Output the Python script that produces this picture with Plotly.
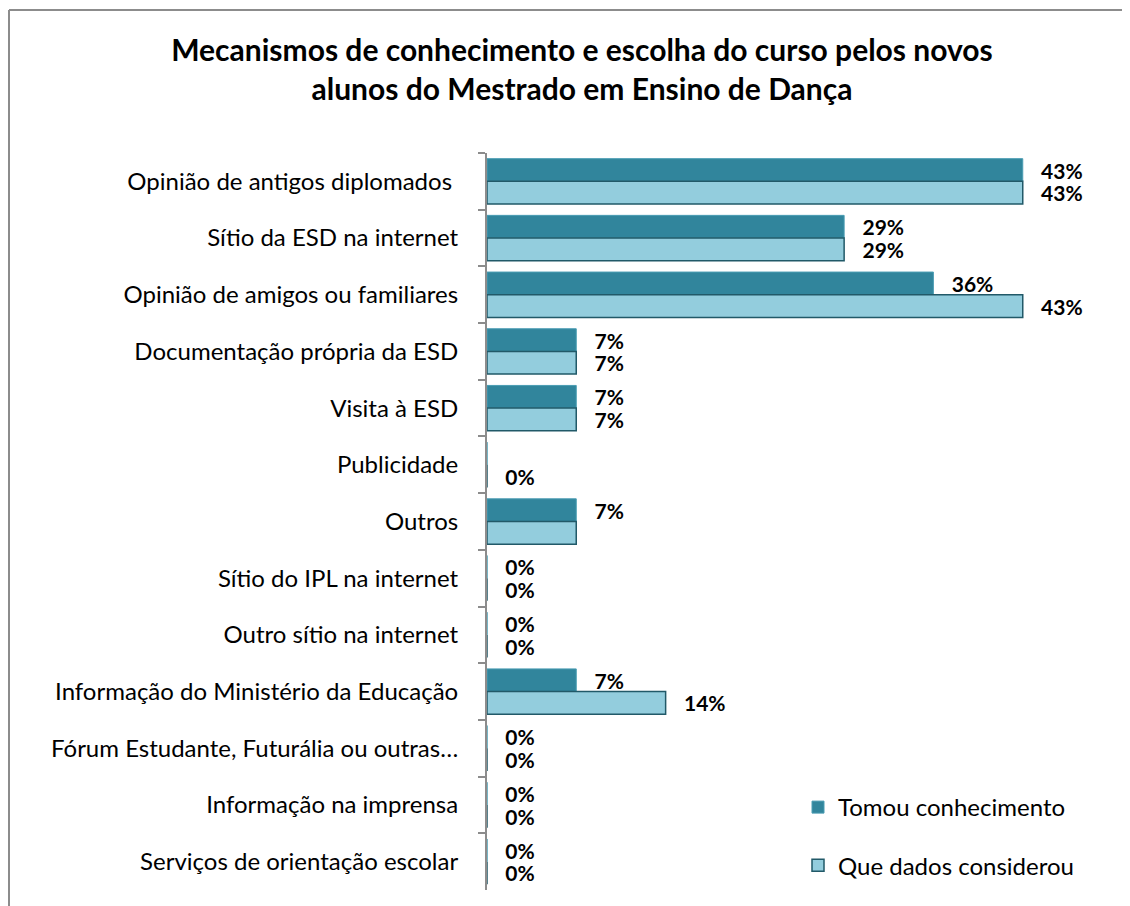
import plotly.graph_objects as go

categories = [
    "Opinião de antigos diplomados ",
    "Sítio da ESD na internet",
    "Opinião de amigos ou familiares",
    "Documentação própria da ESD",
    "Visita à ESD",
    "Publicidade",
    "Outros",
    "Sítio do IPL na internet",
    "Outro sítio na internet",
    "Informação do Ministério da Educação",
    "Fórum Estudante, Futurália ou outras…",
    "Informação na imprensa",
    "Serviços de orientação escolar",
]
tomou = [42.86, 28.57, 35.71, 7.14, 7.14, 0, 7.14, 0, 0, 7.14, 0, 0, 0]
considerou = [42.86, 28.57, 42.86, 7.14, 7.14, 0, 7.14, 0, 0, 14.29, 0, 0, 0]
# which data labels are visible in the original
show_tomou = [1, 1, 1, 1, 1, 0, 1, 1, 1, 1, 1, 1, 1]
show_considerou = [1, 1, 1, 1, 1, 1, 0, 1, 1, 1, 1, 1, 1]

PAD = "\u00a0\u00a0\u00a0"

def labels(vals, show):
    return [PAD + f"{round(v)}%" if s else "" for v, s in zip(vals, show)]

FONT = "Lato"
OFF = 8  # page body margin
W, H = 1130 - OFF, 906 - OFF
L, R, T, B = 487 - OFF, 18, 153 - OFF, 16

fig = go.Figure()
fig.add_trace(go.Bar(
    y=categories, x=tomou, orientation="h", name="Tomou conhecimento",
    marker=dict(color="#31859C", line=dict(color="#4a9db3", width=1)),
    text=labels(tomou, show_tomou), textposition="outside", cliponaxis=False,
    constraintext="none",
    textfont=dict(family=FONT, size=21, color="black", weight="bold"),
    legendgroup="a",
))
fig.add_trace(go.Bar(
    y=categories, x=considerou, orientation="h", name="Que dados considerou",
    marker=dict(color="#93CDDD", line=dict(color="#215968", width=1.5)),
    text=labels(considerou, show_considerou), textposition="outside", cliponaxis=False,
    constraintext="none",
    textfont=dict(family=FONT, size=21, color="black", weight="bold"),
    legendgroup="b",
))

pw = W - L - R
ph = H - T - B
def px_x(p):  # page pixel -> paper
    return (p - OFF - L) / pw
def px_y(p):
    return (H - B - (p - OFF)) / ph

fig.update_layout(
    width=W, height=H,
    margin=dict(l=L, r=R, t=T, b=B),
    paper_bgcolor="white", plot_bgcolor="white",
    barmode="group", bargap=0.2, bargroupgap=0,
    font=dict(family=FONT, size=24, color="black"),
    title=dict(
        text="Mecanismos de conhecimento e escolha do curso pelos novos<br>alunos do Mestrado em Ensino de Dança",
        x=(582 - OFF) / W, xanchor="center", y=1 - 53 / H, yanchor="top",
        font=dict(family=FONT, size=30, color="black", weight="bold"),
    ),
    xaxis=dict(range=[0, 50], visible=False),
    yaxis=dict(
        autorange="reversed", showline=True, linecolor="#8c8c8c", linewidth=2,
        ticks="outside", ticklen=7, tickcolor="#8c8c8c", tickwidth=2,
        tickson="boundaries", showgrid=False, ticklabelstandoff=22,
        tickfont=dict(family=FONT, size=24, color="black"),
    ),
    legend=dict(
        x=px_x(798), y=px_y(785), xanchor="left", yanchor="top",
        traceorder="grouped", tracegroupgap=24,
        font=dict(family=FONT, size=24, color="black"),
        bgcolor="rgba(0,0,0,0)",
    ),
    showlegend=True,
    shapes=[
        dict(type="line", xref="paper", yref="paper",
             x0=px_x(9), x1=px_x(9), y0=px_y(10), y1=px_y(950),
             line=dict(color="#8c8c8c", width=2)),
        dict(type="line", xref="paper", yref="paper",
             x0=px_x(9), x1=px_x(1200), y0=px_y(10), y1=px_y(10),
             line=dict(color="#8c8c8c", width=2)),
    ],
)

fig.write_html("out.html")
